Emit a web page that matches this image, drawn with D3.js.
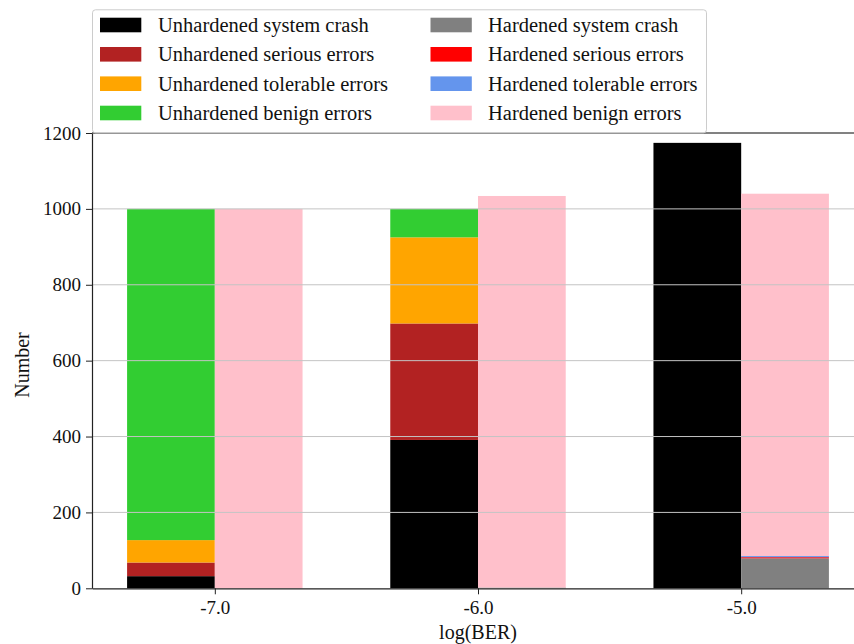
<!DOCTYPE html>
<html>
<head>
<meta charset="utf-8">
<script src="https://cdn.jsdelivr.net/npm/d3@7"></script>
<style>
  html, body { margin: 0; padding: 0; background: #fff; }
  svg { display: block; font-family: "Liberation Serif", "Times New Roman", serif; }
</style>
</head>
<body>
<svg id="chart" width="854" height="644"></svg>
<script>
// log10 of the bit error rate for each experiment group
const berLevels = [-7, -6, -5];

// Outcome counts without hardening
const unhardenedCrash     = [32, 391, 1174];
const unhardenedSerious   = [36, 307, 0];
const unhardenedTolerable = [59, 227, 0];
const unhardenedBenign    = [873, 75, 0];

// Outcome counts with hardening
const hardenedCrash     = [0, 2, 79];
const hardenedSerious   = [0, 0, 3];
const hardenedTolerable = [0, 0, 3];
const hardenedBenign    = [1000, 1032, 955];

const yTicks = [0, 200, 400, 600, 800, 1000, 1200];

const unhardenedSeries = [
  { name: "Unhardened system crash",     values: unhardenedCrash,     color: "#000000" },
  { name: "Unhardened serious errors",   values: unhardenedSerious,   color: "#b22222" },
  { name: "Unhardened tolerable errors", values: unhardenedTolerable, color: "#ffa500" },
  { name: "Unhardened benign errors",    values: unhardenedBenign,    color: "#32cd32" }
];
const hardenedSeries = [
  { name: "Hardened system crash",     values: hardenedCrash,     color: "#808080" },
  { name: "Hardened serious errors",   values: hardenedSerious,   color: "#ff0000" },
  { name: "Hardened tolerable errors", values: hardenedTolerable, color: "#6495ed" },
  { name: "Hardened benign errors",    values: hardenedBenign,    color: "#ffc0cb" }
];

const svg = d3.select("#chart");
const plot = { left: 92, right: 864, top: 133, bottom: 588.3 };

const barWidthUnits = 1 / 3;
const pad = (2 + 2 * barWidthUnits) * 0.05;
const x = d3.scaleLinear()
  .domain([berLevels[0] - barWidthUnits - pad, berLevels[berLevels.length - 1] + barWidthUnits + pad])
  .range([plot.left, plot.right]);
const y = d3.scaleLinear().domain([0, 1200]).range([plot.bottom, plot.top]);
const bw = x(barWidthUnits) - x(0);

// Stack one set of series into cumulative segments
function stackSegments(series, offsetSign) {
  const segs = [];
  berLevels.forEach((lvl, i) => {
    let base = 0;
    series.forEach(s => {
      const v = s.values[i];
      segs.push({ lvl, y0: base, y1: base + v, color: s.color, side: offsetSign });
      base += v;
    });
  });
  return segs;
}

const segments = stackSegments(unhardenedSeries, -1).concat(stackSegments(hardenedSeries, 0));

svg.append("g").selectAll("rect")
  .data(segments.filter(d => d.y1 > d.y0))
  .join("rect")
  .attr("x", d => x(d.lvl) + d.side * bw)
  .attr("width", bw)
  .attr("y", d => y(d.y1))
  .attr("height", d => y(d.y0) - y(d.y1))
  .attr("fill", d => d.color);

// Horizontal grid on top of the bars
svg.append("g").selectAll("line")
  .data(yTicks.filter(t => t > 0))
  .join("line")
  .attr("x1", plot.left).attr("x2", plot.right)
  .attr("y1", d => y(d)).attr("y2", d => y(d))
  .attr("stroke", "#c4c4c4").attr("stroke-width", 1);

// Axes
const yAxis = svg.append("g")
  .attr("transform", `translate(${plot.left},0)`)
  .call(d3.axisLeft(y).tickValues(yTicks).tickFormat(d3.format("d")).tickSize(6).tickSizeOuter(0).tickPadding(5));
const xAxis = svg.append("g")
  .attr("transform", `translate(0,${plot.bottom})`)
  .call(d3.axisBottom(x).tickValues(berLevels).tickFormat(d => d.toFixed(1)).tickSize(6).tickSizeOuter(0).tickPadding(6));

[yAxis, xAxis].forEach(g => {
  g.selectAll("path.domain").attr("stroke", "#222").attr("stroke-width", 1.2);
  g.selectAll(".tick line").attr("stroke", "#222").attr("stroke-width", 1);
  g.selectAll(".tick text").attr("fill", "#111").style("font-size", "19px")
    .style("font-family", "'Liberation Serif', 'Times New Roman', serif");
});

// Top spine
svg.append("line")
  .attr("x1", plot.left).attr("x2", plot.right)
  .attr("y1", plot.top).attr("y2", plot.top)
  .attr("stroke", "#222").attr("stroke-width", 1.2);

// Axis titles
svg.append("text")
  .attr("x", x(-6)).attr("y", 639)
  .attr("text-anchor", "middle")
  .style("font-size", "20px").attr("fill", "#111")
  .text("log(BER)");
svg.append("text")
  .attr("transform", `translate(29,365) rotate(-90)`)
  .attr("text-anchor", "middle")
  .style("font-size", "20px").attr("fill", "#111")
  .text("Number");

// Legend (two columns)
const legend = svg.append("g");
legend.append("rect")
  .attr("x", 92.5).attr("y", 9.8).attr("width", 614).attr("height", 123)
  .attr("rx", 3).attr("ry", 3)
  .attr("fill", "#fff").attr("fill-opacity", 0.8)
  .attr("stroke", "#cccccc").attr("stroke-width", 1);

const legendCols = [
  { series: unhardenedSeries, hx: 100, tx: 158 },
  { series: hardenedSeries,   hx: 430.5, tx: 488 }
];
const rowY = [25, 54.3, 83.7, 113];
legendCols.forEach(col => {
  col.series.forEach((s, i) => {
    legend.append("rect")
      .attr("x", col.hx).attr("y", rowY[i] - 7.3)
      .attr("width", 41.3).attr("height", 14.6)
      .attr("fill", s.color);
    legend.append("text")
      .attr("x", col.tx).attr("y", rowY[i] + 7)
      .style("font-size", "20.5px").attr("fill", "#111")
      .text(s.name);
  });
});
</script>
</body>
</html>
